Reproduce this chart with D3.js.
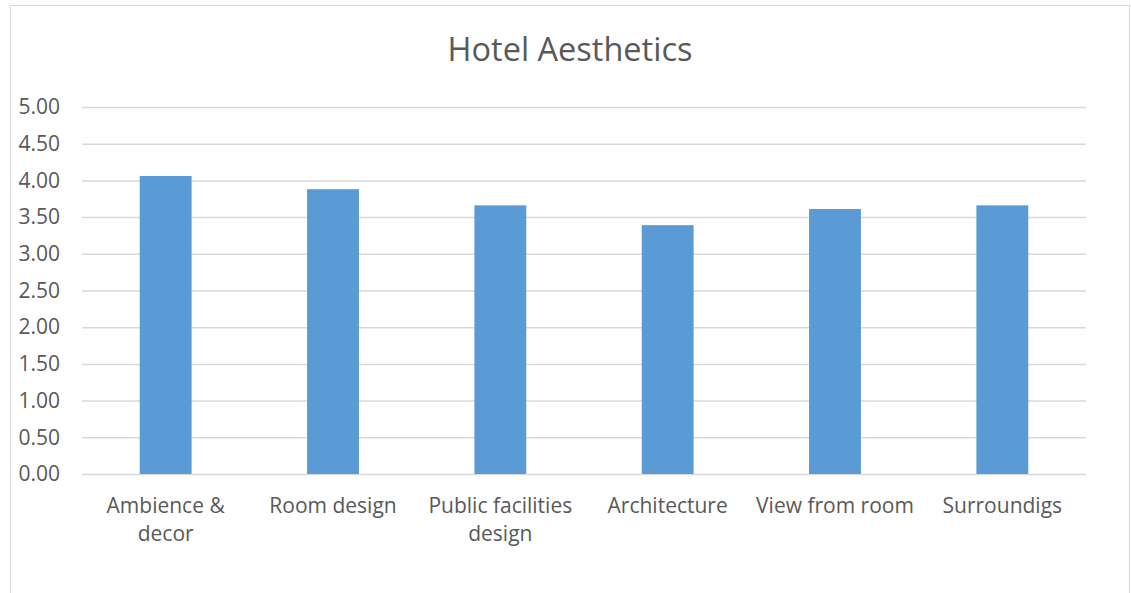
<!DOCTYPE html>
<html>
<head>
<meta charset="utf-8">
<script src="https://cdn.jsdelivr.net/npm/d3@7"></script>
<style>
  body { margin: 0; background: #fff; }
  text { font-family: "Open Sans", sans-serif; fill: #595959; }
</style>
</head>
<body>
<div id="chart"></div>
<script>
// Hotel Aesthetics - mean scores per category
const categories = [
  ["Ambience &", "decor"],
  ["Room design"],
  ["Public facilities", "design"],
  ["Architecture"],
  ["View from room"],
  ["Surroundigs"]
];
const scores = [4.06, 3.88, 3.66, 3.39, 3.61, 3.66];
const yTicks = [0, 0.5, 1, 1.5, 2, 2.5, 3, 3.5, 4, 4.5, 5];

const W = 1131, H = 593;
const margin = { top: 107, right: 45, bottom: 119, left: 82 };
const width = W - margin.left - margin.right;
const height = H - margin.top - margin.bottom;

const svg = d3.select("#chart")
  .append("svg")
  .attr("width", W)
  .attr("height", H);

// chart frame
svg.append("rect")
  .attr("x", 10.5)
  .attr("y", 5.5)
  .attr("width", 1119)
  .attr("height", 620)
  .attr("fill", "none")
  .attr("stroke", "#d9d9d9")
  .attr("stroke-width", 1);

svg.append("text")
  .attr("x", 570)
  .attr("y", 61)
  .attr("text-anchor", "middle")
  .style("font-size", "32.5px")
  .text("Hotel Aesthetics");

const g = svg.append("g")
  .attr("transform", `translate(${margin.left}, ${margin.top})`);

const x = d3.scaleBand()
  .domain(d3.range(categories.length))
  .range([0, width])
  .paddingInner(0.69)
  .paddingOuter(0.345);

const y = d3.scaleLinear()
  .domain([0, 5])
  .range([height, 0]);

// gridlines + y labels
const yAxis = g.append("g")
  .call(d3.axisLeft(y).tickValues(yTicks).tickSize(-width).tickFormat(d3.format(".2f")).tickPadding(22));
yAxis.select(".domain").remove();
yAxis.selectAll(".tick line")
  .attr("stroke", "#d9d9d9")
  .attr("stroke-width", 1.5);
yAxis.selectAll(".tick text")
  .attr("fill", "#595959")
  .style("font-size", "21px")
  .style("font-family", "Open Sans, sans-serif");

// bars
g.selectAll("rect.bar")
  .data(scores)
  .join("rect")
  .attr("class", "bar")
  .attr("x", (d, i) => x(i))
  .attr("y", d => y(d))
  .attr("width", x.bandwidth())
  .attr("height", d => height - y(d))
  .attr("fill", "#5b9bd5");

// category labels
const xl = g.append("g")
  .attr("transform", `translate(0, ${height})`);
categories.forEach((lines, i) => {
  const t = xl.append("text")
    .attr("x", x(i) + x.bandwidth() / 2)
    .attr("y", 39)
    .attr("text-anchor", "middle")
    .style("font-size", "21px");
  lines.forEach((s, j) => {
    t.append("tspan")
      .attr("x", x(i) + x.bandwidth() / 2)
      .attr("dy", j === 0 ? 0 : 28)
      .text(s);
  });
});
</script>
</body>
</html>
